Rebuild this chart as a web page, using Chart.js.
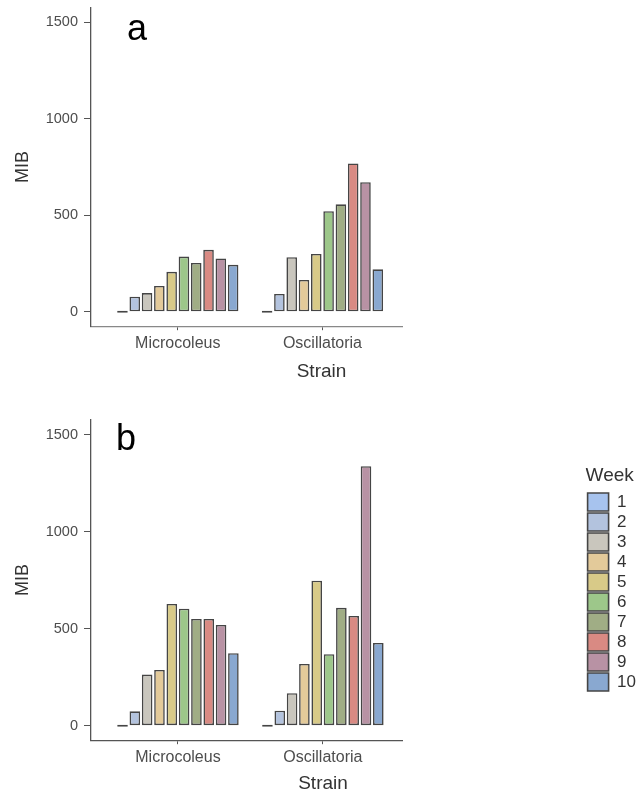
<!DOCTYPE html>
<html>
<head>
<meta charset="utf-8">
<script src="https://cdn.jsdelivr.net/npm/chart.js"></script>
<style>
  body { margin: 0; background: #fff; }
  .panel { position: relative; width: 643px; }
  canvas { display: block; }
</style>
</head>
<body>
<div class="panel"><canvas id="chartA" width="643" height="398"></canvas></div>
<div class="panel"><canvas id="chartB" width="643" height="394"></canvas></div>
<script>
// Data
const strains = ['Microcoleus', 'Oscillatoria'];
const weeks = ['1', '2', '3', '4', '5', '6', '7', '8', '9', '10'];
const yTicks = [0, 500, 1000, 1500];

// panel a
const microA = [0, 78, 97, 134, 207, 286, 253, 321, 276, 243];
const oscA = [0, 92, 283, 165, 300, 521, 557, 769, 672, 220];
// panel b
const microB = [0, 74, 263, 287, 627, 603, 550, 550, 519, 373];
const oscB = [0, 77, 167, 318, 747, 368, 607, 565, 1337, 426];

const weekColors = ['#a7c3ee', '#b3c3de', '#c9c6bd', '#e3ca9a', '#d8ca88',
                    '#9dc78a', '#a0ad85', '#d98a83', '#b892a4', '#89a8d0'];

Chart.defaults.font.family = "'Liberation Sans', Arial, sans-serif";

// draws the big "a" / "b" in the top left corner of the plot
const panelLabel = {
    id: 'panelLabel',
    afterDraw(chart, args, opts) {
        const {ctx, chartArea} = chart;
        ctx.save();
        ctx.font = '36px "Liberation Sans", Arial, sans-serif';
        ctx.fillStyle = '#000';
        ctx.textBaseline = 'alphabetic';
        ctx.fillText(opts.text, chartArea.left + opts.dx, chartArea.top + opts.dy);
        ctx.restore();
    }
};

function createChart(id, micro, osc, cfg) {
    const datasets = weeks.map((w, i) => ({
        label: w,
        data: [micro[i], osc[i]],
        backgroundColor: weekColors[i],
        borderColor: '#454545',
        borderWidth: 1.6,
        borderSkipped: false,
        minBarLength: 2,
        categoryPercentage: 0.85,
        barPercentage: 0.86
    }));

    return new Chart(document.getElementById(id), {
        type: 'bar',
        data: { labels: [1, 2], datasets: datasets },
        plugins: [panelLabel],
        options: {
            responsive: false,
            animation: false,
            devicePixelRatio: 1,
            layout: { padding: { top: cfg.padTop, left: 0, right: cfg.padR, bottom: 0 } },
            scales: {
                x: {
                    type: 'linear',
                    min: 0.4,
                    max: 2.55,
                    offset: false,
                    afterBuildTicks: s => { s.ticks = [{ value: 1 }, { value: 2 }]; },
                    afterFit: s => { s.height = cfg.xHeight; },
                    ticks: {
                        callback: v => strains[v - 1],
                        color: '#4d4d4d',
                        font: { size: 16 },
                        padding: 4,
                        maxRotation: 0,
                        autoSkip: false
                    },
                    grid: { display: true, drawOnChartArea: false, tickLength: 4, color: '#555', offset: false },
                    border: { color: cfg.xLine, width: 1.3 }
                },
                y: {
                    min: -75,
                    max: 1575,
                    afterBuildTicks: s => { s.ticks = yTicks.map(v => ({ value: v })); },
                    afterFit: s => { s.width = 91; s.paddingTop = 0; s.paddingBottom = 0; },
                    ticks: { color: '#4d4d4d', font: { size: 14.5 }, padding: 6, callback: v => String(v) },
                    grid: { display: true, drawOnChartArea: false, tickLength: 7, color: '#555' },
                    border: { color: '#555', width: 1.3 },
                    title: {
                        display: true,
                        text: 'MIB',
                        color: '#333',
                        font: { size: 18 },
                        padding: { top: 12, bottom: 0 }
                    }
                },
                pad: {
                    type: 'linear',
                    position: 'right',
                    display: true,
                    grid: { display: false },
                    border: { display: false },
                    ticks: { display: false },
                    afterFit: s => { s.width = cfg.padRight; }
                }
            },
            plugins: {
                legend: cfg.legend ? {
                    display: true,
                    position: 'right',
                    align: 'start',
                    title: {
                        display: true,
                        text: 'Week',
                        color: '#333',
                        font: { size: 19 },
                        position: 'start',
                        padding: { top: 46.5, bottom: 1.7 }
                    },
                    labels: {
                        boxWidth: 21,
                        boxHeight: 18,
                        padding: 2,
                        color: '#333',
                        font: { size: 17 }
                    }
                } : { display: false },
                tooltip: { enabled: false },
                title: {
                    display: true,
                    text: 'Strain',
                    position: 'bottom',
                    color: '#333',
                    font: { size: 19, weight: 'normal' },
                    padding: { top: 0, bottom: cfg.titleBottom }
                },
                panelLabel: { text: cfg.label, dx: cfg.labelDx, dy: cfg.labelDy }
            }
        }
    });
}

createChart('chartA', microA, oscA, {
    padTop: 8, padR: 0, xHeight: 34, padRight: 241, titleBottom: 15,
    xLine: '#888', legend: false, label: 'a', labelDx: 36, labelDy: 32
});

createChart('chartB', microB, oscB, {
    padTop: 22, padR: -3, xHeight: 32, padRight: 183, titleBottom: -3,
    xLine: '#555', legend: true, label: 'b', labelDx: 25, labelDy: 30
});
</script>
</body>
</html>
